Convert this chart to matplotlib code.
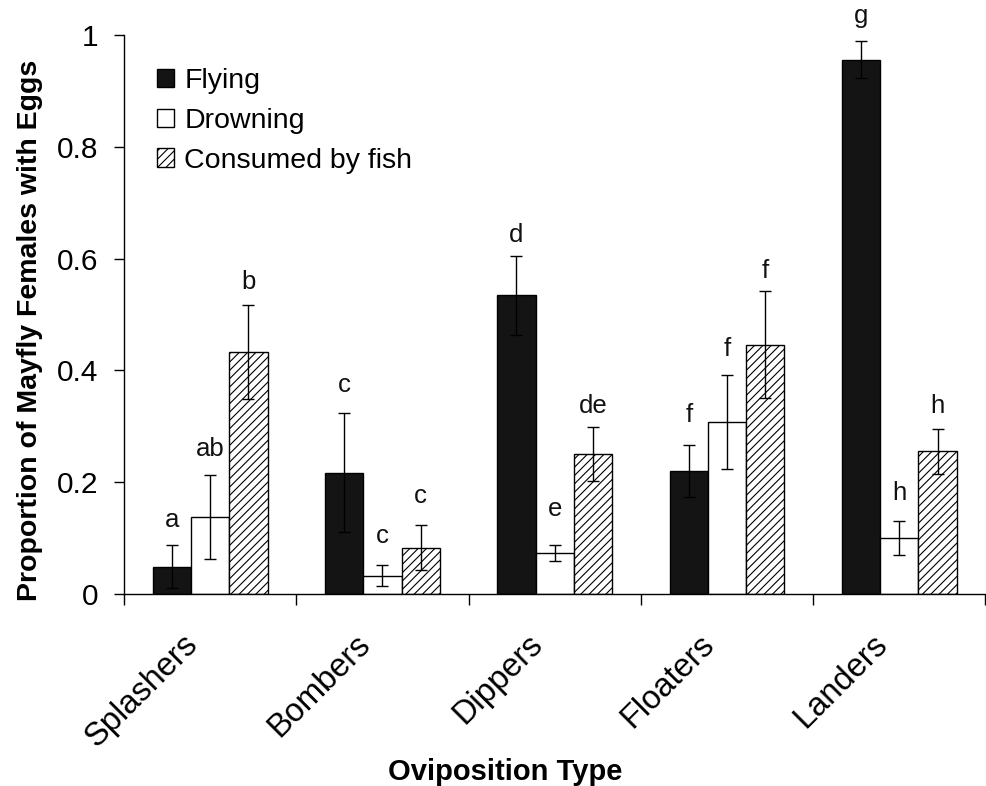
import matplotlib
matplotlib.use("Agg")
import matplotlib.pyplot as plt
import numpy as np
from matplotlib.transforms import ScaledTranslation

plt.rcParams['font.family'] = ['Liberation Sans', 'DejaVu Sans']
plt.rcParams['hatch.linewidth'] = 0.8

categories = ["Splashers", "Bombers", "Dippers", "Floaters", "Landers"]
series_names = ["Flying", "Drowning", "Consumed by fish"]

flying = [0.049, 0.217, 0.534, 0.220, 0.956]
flying_err = [0.039, 0.106, 0.070, 0.047, 0.033]
drowning = [0.138, 0.033, 0.073, 0.308, 0.100]
drowning_err = [0.075, 0.018, 0.014, 0.084, 0.031]
consumed = [0.433, 0.083, 0.250, 0.446, 0.255]
consumed_err = [0.084, 0.040, 0.048, 0.096, 0.041]

letters_flying = ["a", "c", "d", "f", "g"]
letters_drowning = ["ab", "c", "e", "f", "h"]
letters_consumed = ["b", "c", "de", "f", "h"]
# baseline heights of significance letters (data units)
letters_flying_y = [0.120, 0.361, 0.629, 0.308, 1.021]
letters_drowning_y = [0.247, 0.0905, 0.139, 0.425, 0.168]
letters_consumed_y = [0.546, 0.163, 0.324, 0.566, 0.324]

yticks = [0, 0.2, 0.4, 0.6, 0.8, 1]
ytick_labels = ["0", "0.2", "0.4", "0.6", "0.8", "1"]

fig = plt.figure(figsize=(9.87, 7.86), dpi=100)
ax = fig.add_axes([124/987, 1-594/786, 861.5/987, (594-35)/786])

x = np.arange(len(categories))
w = 0.222
styles = [dict(color="#141414", edgecolor="black"),
          dict(color="white", edgecolor="black"),
          dict(color="white", edgecolor="black", hatch="////")]
vals = [flying, drowning, consumed]
errs = [flying_err, drowning_err, consumed_err]
letters = [letters_flying, letters_drowning, letters_consumed]
letters_y = [letters_flying_y, letters_drowning_y, letters_consumed_y]

for i in range(3):
    pos = x + (i - 1) * w
    ax.bar(pos, vals[i], width=w, linewidth=1.0, label=series_names[i], zorder=2, **styles[i])
    ax.errorbar(pos, vals[i], yerr=errs[i], fmt='none', ecolor='black',
                elinewidth=1.0, capsize=4, capthick=1.0, zorder=3)
    for p, t, yy in zip(pos, letters[i], letters_y[i]):
        ax.text(p, yy, t, ha='center', va='baseline', fontsize=18.5, color='#111111')

ax.set_xlim(-0.5, 4.5)
ax.set_ylim(0, 1)
for s in ['top', 'right']:
    ax.spines[s].set_visible(False)
ax.spines['left'].set_linewidth(1.0)
ax.spines['bottom'].set_linewidth(1.0)

ax.set_yticks(yticks)
ax.set_yticklabels(ytick_labels, fontsize=21.5)
ax.tick_params(axis='y', direction='out', length=7.5, width=1.0, pad=11)

ax.set_xticks(np.arange(-0.5, 5.0, 1.0))
ax.set_xticklabels([])
ax.tick_params(axis='x', which='major', direction='out', length=8, width=1.0)
ax.set_xticks(x, minor=True)
ax.set_xticklabels(categories, minor=True, fontsize=23.5, rotation=45,
                   ha='right', va='top', rotation_mode='anchor')
ax.tick_params(axis='x', which='minor', length=0, pad=25)
for lbl in ax.get_xticklabels(minor=True):
    lbl.set_transform(lbl.get_transform() + ScaledTranslation(-0.28, 0, fig.dpi_scale_trans))

ax.set_ylabel("Proportion of Mayfly Females with Eggs", fontsize=20.5, fontweight='bold')
ax.yaxis.set_label_coords(-0.094, 0.472)
ax.set_xlabel("Oviposition Type", fontsize=21, fontweight='bold')
ax.xaxis.set_label_coords(0.442, -0.293)

leg = ax.legend(loc='upper left', bbox_to_anchor=(0.025, 0.962), frameon=False,
                fontsize=20.5, handlelength=0.6, handleheight=0.6,
                handletextpad=0.36, labelspacing=0.49, borderaxespad=0)

fig.savefig("out.png", dpi=100)
